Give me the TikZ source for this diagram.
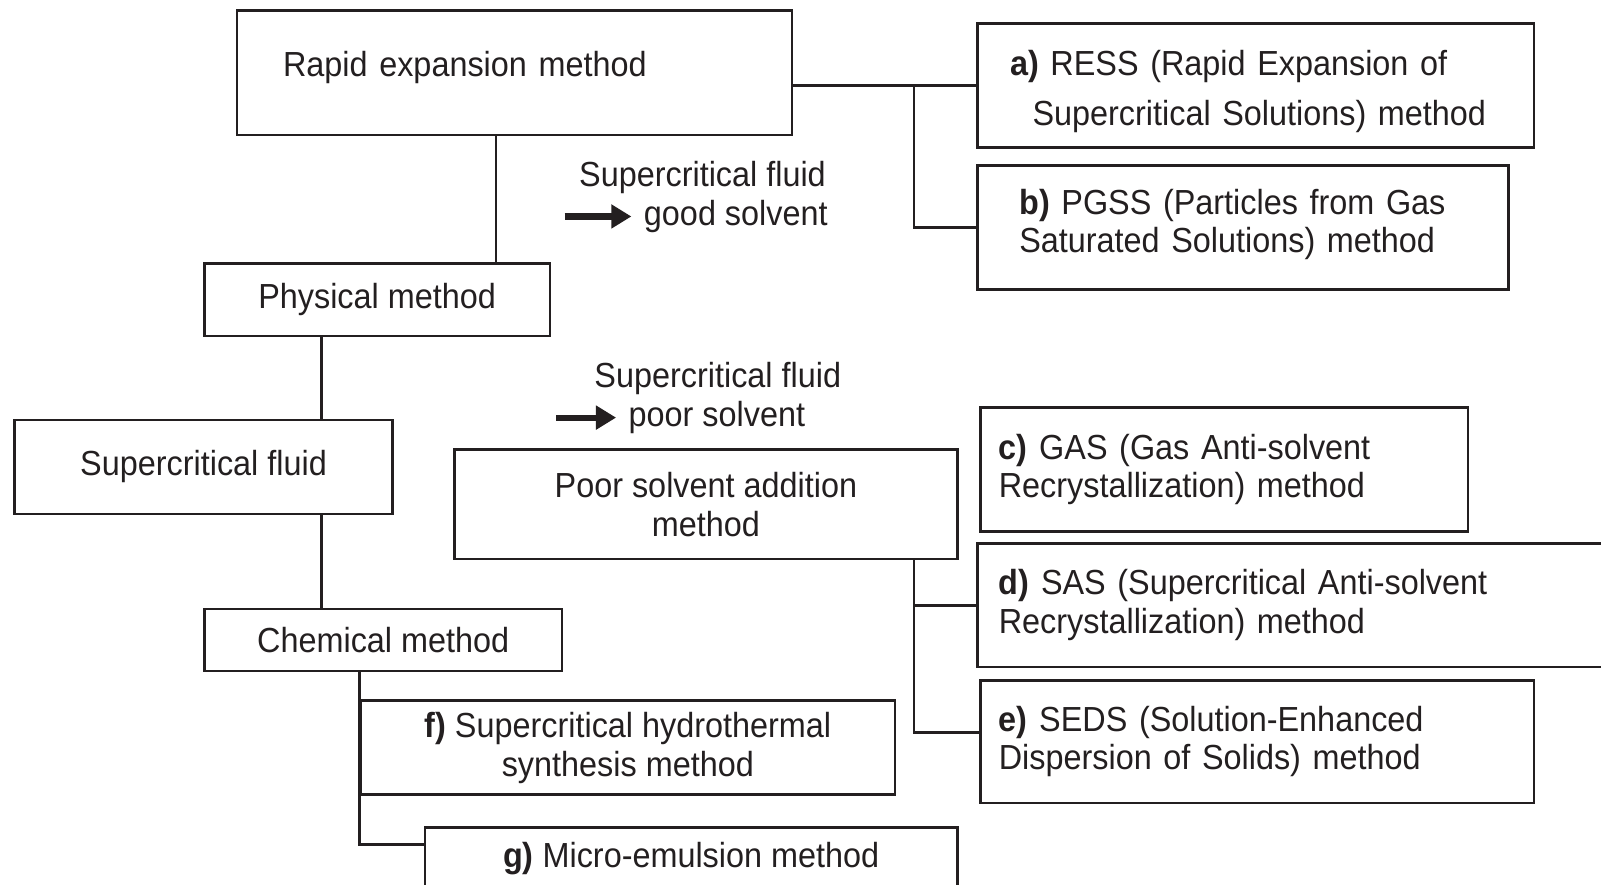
\documentclass[tikz,border=0pt]{standalone}
\usepackage{fontspec}
\setmainfont{Liberation Sans}[FakeStretch=0.93]
\usepackage{tikz}
\usetikzlibrary{positioning}
\usetikzlibrary{arrows.meta}
\definecolor{ink}{HTML}{231F20}

\tikzset{
  box/.style={draw=ink, line width=0.7pt, anchor=north west, inner sep=0pt, align=center, text=ink, font=\fontsize{9.7}{10.8}\selectfont},
  lbox/.style={box, align=left},
  note/.style={text=ink, inner sep=0pt, font=\fontsize{9.7}{10.8}\selectfont},
  link/.style={draw=ink, line width=0.7pt},
  solv/.style={draw=ink, line width=1.7pt, shorten >=3.3pt, -{Triangle[length=5.6pt,width=6.4pt]}},
}

\begin{document}
\begin{tikzpicture}[x=0.01cm, y=-0.01cm]
    \useasboundingbox (0,0) rectangle (1568,866);
    \clip (0,0) rectangle (1568,866);

    % main chain on the left
    \node[lbox, minimum width=5.43cm, minimum height=1.22cm, text width=4.53cm] (rapid) at (231,9) {Rapid expansion method\rule[-0.17cm]{0pt}{0.17cm}};
    \node[box, minimum width=3.38cm, minimum height=0.71cm] (phys) at (199,257) {Physical method};
    \node[box, minimum width=3.70cm, minimum height=0.92cm] (sf) at (13,410) {Supercritical fluid};
    \node[box, minimum width=3.50cm, minimum height=0.61cm] (chem) at (199,595) {Chemical method};
    \node[box, minimum width=4.92cm, minimum height=1.07cm] (poor) at (444,439) {Poor solvent addition\\method};
    \node[box, minimum width=5.23cm, minimum height=0.92cm] (hydro) at (352,685) {\textbf{f)} Supercritical hydrothermal\\synthesis method};
    \node[box, minimum width=5.21cm, minimum height=0.62cm] (micro) at (415,809) {\textbf{g)} Micro-emulsion method};

    % methods on the right
    \node[lbox, minimum width=5.45cm, minimum height=1.21cm, text width=4.81cm] (ress) at (956,22) {\rule{0pt}{10.3pt}\textbf{a)} RESS (Rapid Expansion of\\[2.9pt]\hspace*{0.22cm}Supercritical Solutions) method};
    \node[lbox, minimum width=5.20cm, minimum height=1.21cm, text width=4.38cm] (pgss) at (956,161) {\textbf{b)} PGSS (Particles from Gas\\Saturated Solutions) method\rule[-0.13cm]{0pt}{0.13cm}};
    \node[lbox, minimum width=4.77cm, minimum height=1.21cm, text width=4.41cm] (gas) at (959,398) {\textbf{c)} GAS (Gas Anti-solvent\\Recrystallization) method};
    \node[lbox, minimum width=7.00cm, minimum height=1.21cm, text width=6.58cm] (sas) at (956,531) {\textbf{d)} SAS (Supercritical Anti-solvent\\Recrystallization) method};
    \node[lbox, minimum width=5.42cm, minimum height=1.20cm, text width=5.06cm] (seds) at (959,665) {\textbf{e)} SEDS (Solution-Enhanced\\Dispersion of Solids) method};

    % solvent notes
    \node[note] (sfgood) at (688,174) {Supercritical fluid};
    \node[note, anchor=west] (good) at (630,212) {good solvent};
    \node[note] (sfpoor) at (703,371) {Supercritical fluid};
    \node[note, anchor=west] (bad) at (615,409) {poor solvent};
    \coordinate (ag) at (553,0);
    \coordinate (ap) at (545,0);
    \draw[solv] (good.west -| ag) -- (good.west);
    \draw[solv] (bad.west -| ap) -- (bad.west);

    % tree lines
    \coordinate (xa) at (486,0);
    \coordinate (xb) at (315,0);
    \coordinate (xc) at (352,0);
    \coordinate (xd) at (895,0);
    \draw[link] (rapid.south -| xa) -- (phys.north -| xa);
    \draw[link] (phys.south -| xb) -- (sf.north -| xb);
    \draw[link] (sf.south -| xb) -- (chem.north -| xb);
    \draw[link] (rapid.east |- ress.west) -- (ress.west);
    \draw[link] (ress.west -| xd) |- (pgss.west);
    \draw[link] (poor.south -| xd) |- ([yshift=0.09cm]seds.west);
    \draw[link] (sas.west -| xd) -- (sas.west);
    \draw[link] (chem.south -| xc) |- ([yshift=0.14cm]micro.west);
\end{tikzpicture}
\end{document}
